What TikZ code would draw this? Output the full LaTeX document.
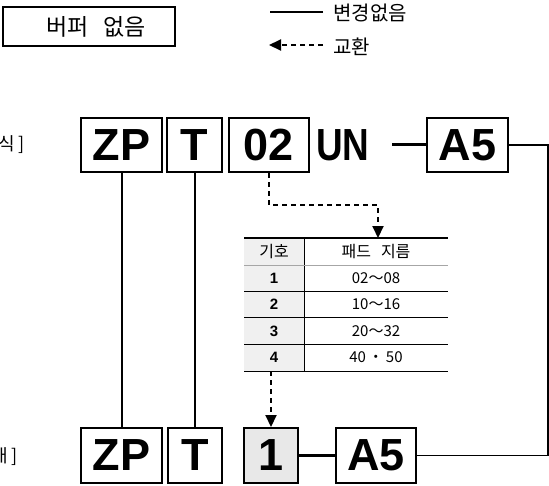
\documentclass[tikz,border=0pt]{standalone}
\usepackage{fontspec}
\setmainfont{Liberation Sans}
\newfontfamily\krfont{Noto Sans CJK KR}
\usetikzlibrary{arrows.meta, positioning}

\begin{document}
\begin{tikzpicture}[
    x=1pt, y=-1pt,
    code/.style={draw, line width=2pt, inner sep=0pt, minimum height=54pt,
                 font=\fontsize{45}{45}\selectfont\bfseries},
    cell/.style={inner sep=0pt, font=\krfont\fontsize{15}{15}\selectfont},
    swapline/.style={line width=2pt, dash pattern=on 5pt off 4pt},
    >={Triangle[width=11pt, length=12pt]}
  ]
  \useasboundingbox (0,0) rectangle (549,485);

  % header and legend
  \node[draw, line width=1.2pt, minimum width=172pt, minimum height=39pt,
        inner sep=0pt, font=\krfont\fontsize{23}{23}\selectfont]
    (nobuf) at (89,26.5) {\hspace{14pt}버퍼\hspace{15pt}없음};
  \node[anchor=west, inner sep=0pt, font=\krfont\fontsize{20}{20}\selectfont]
    (keep) at (333,13) {변경없음};
  \node[anchor=west, inner sep=0pt, font=\krfont\fontsize{20}{20}\selectfont]
    (swap) at (333,47) {교환};
  \draw[line width=1.5pt] ([xshift=-10pt]keep.west |- 0,12) -- ++(-53,0);
  \draw[swapline, ->] ([xshift=-10pt]swap.west |- 0,45) -- ++(-54,0);

  % side labels
  \node[anchor=east, inner sep=0pt, font=\krfont\fontsize{18}{18}\selectfont]
    (oldlbl) at (25,145) {[현재 형식\hspace{4pt}]};
  \node[anchor=east, inner sep=0pt, font=\krfont\fontsize{18}{18}\selectfont]
    (newlbl) at (18,457) {[교체 후 형태\hspace{4pt}]};

  % old part number
  \node[code, minimum width=81pt] (zp) at (121.5,145) {ZP};
  \node[code, minimum width=55pt] (t) at (194.5,145) {T};
  \node[code, minimum width=80pt] (n02) at (269,145) {02};
  \node[inner sep=0pt, font=\fontsize{45}{45}\selectfont\bfseries, xscale=0.82]
    (un) at (343,145) {UN};
  \node[code, minimum width=81pt] (a5) at (467.5,145) {A5};
  \coordinate (undash) at (392,144);

  % new part number
  \node[code, minimum width=81pt, minimum height=55pt] (zpnew) at (121.5,455.5) {ZP};
  \node[code, minimum width=54pt, minimum height=55pt] (tnew) at (195,455.5) {T};
  \node[code, minimum width=54pt, minimum height=55pt, fill=gray!18]
    (onenew) at (271,455.5) {1};
  \node[code, minimum width=80pt, minimum height=55pt] (a5new) at (376,455.5) {A5};

  % pad diameter table
  \fill[gray!12] (244,238) rectangle (304,371);
  \draw[line width=1pt] (304,238) -- (304,371);
  \draw[line width=1pt, gray!70] (244,265) -- (448,265);
  \foreach \y in {291,317,344,371}
    \draw[line width=1pt] (244,\y) -- (448,\y);
  \draw[line width=2pt] (244,238) -- (448,238);
  \node[cell, font=\krfont\fontsize{16}{16}\selectfont] (symhead) at (274,251.5) {기호};
  \node[cell, font=\krfont\fontsize{16}{16}\selectfont] (padhead) at (376,251.5)
    {패드\hspace{10pt}지름};
  \foreach \k/\d [count=\i] in {1/02～08, 2/10～16, 3/20～32, 4/40\,・\,50} {
    \pgfmathsetmacro{\rowy}{278+(\i-1)*26.5}
    \node[cell, font=\fontsize{15}{15}\selectfont\bfseries] (k\i) at (274,\rowy) {\k};
    \node[cell] (d\i) at (376,\rowy) {\d};
  }
  \coordinate (tbltop) at (378,238);
  \coordinate (tblbot) at (271,371);

  % connectors
  \draw[line width=2pt] (zp) -- (zpnew);
  \draw[line width=2pt] (t.south) -- (t.south |- tnew.north);
  \draw[line width=3pt] (undash) -- (a5.west |- undash);
  \draw[line width=1.5pt] (a5.east) -- ++(39,0) |- (a5new.east);
  \draw[line width=3pt] (onenew) -- (a5new);
  \draw[swapline, ->] (n02.south) -- ++(0,32) -| (tbltop);
  \draw[swapline, ->] (tblbot) -- (onenew.north);
\end{tikzpicture}
\end{document}
